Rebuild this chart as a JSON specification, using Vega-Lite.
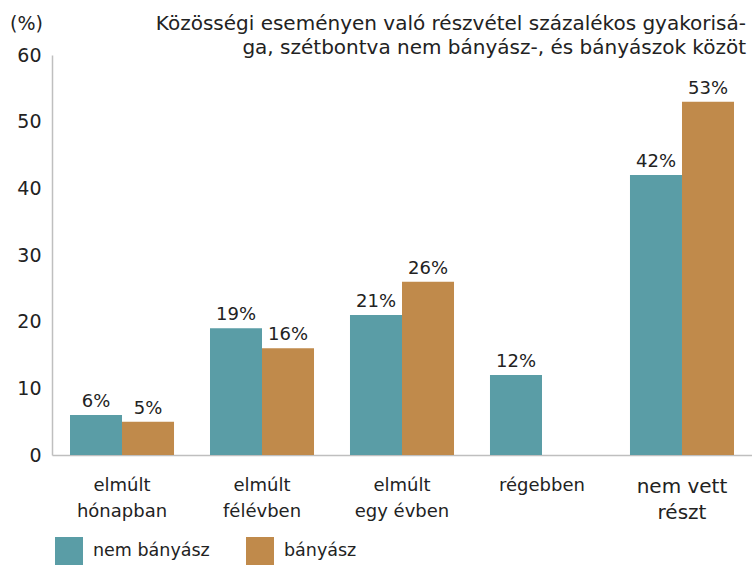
{
  "$schema": "https://vega.github.io/schema/vega-lite/v6.json",
  "width": 700,
  "height": 400,
  "autosize": "none",
  "padding": {"left": 52, "top": 55, "right": 0, "bottom": 110},
  "background": "white",
  "title": {
    "text": ["Közösségi eseményen való részvétel százalékos gyakorisá-", "ga, szétbontva nem bányász-, és bányászok közöt"],
    "anchor": "end",
    "frame": "group",
    "font": "DejaVu Sans",
    "fontSize": 20,
    "fontWeight": "normal",
    "color": "#222222",
    "lineHeight": 24,
    "offset": 4,
    "dx": -6,
    "dy": 48
  },
  "data": {
    "values": [
      {"cat": "elmúlt hónapban", "group": "nem bányász", "value": 6, "label": "6%"},
      {"cat": "elmúlt hónapban", "group": "bányász", "value": 5, "label": "5%"},
      {"cat": "elmúlt félévben", "group": "nem bányász", "value": 19, "label": "19%"},
      {"cat": "elmúlt félévben", "group": "bányász", "value": 16, "label": "16%"},
      {"cat": "elmúlt egy évben", "group": "nem bányász", "value": 21, "label": "21%"},
      {"cat": "elmúlt egy évben", "group": "bányász", "value": 26, "label": "26%"},
      {"cat": "régebben", "group": "nem bányász", "value": 12, "label": "12%"},
      {"cat": "nem vett részt", "group": "nem bányász", "value": 42, "label": "42%"},
      {"cat": "nem vett részt", "group": "bányász", "value": 53, "label": "53%"}
    ]
  },
  "encoding": {
    "x": {
      "field": "cat",
      "type": "nominal",
      "sort": null,
      "scale": {"paddingInner": 0.257, "paddingOuter": 0.1286},
      "axis": {
        "title": null,
        "labelAngle": 0,
        "ticks": false,
        "domainColor": "#BFBFBF",
        "domainWidth": 1.5,
        "labelFont": "DejaVu Sans",
        "labelFontSize": {"condition": {"test": "datum.value == 'nem vett részt'", "value": 20}, "value": 18},
        "labelColor": "#222222",
        "labelPadding": 21,
        "labelLineHeight": 26,
        "labelBaseline": "top",
        "labelExpr": "datum.value == 'elmúlt hónapban' ? ['elmúlt', 'hónapban'] : datum.value == 'elmúlt félévben' ? ['elmúlt', 'félévben'] : datum.value == 'elmúlt egy évben' ? ['elmúlt', 'egy évben'] : datum.value == 'nem vett részt' ? ['nem vett', 'részt'] : datum.value"
      }
    },
    "xOffset": {"field": "group", "type": "nominal", "sort": ["nem bányász", "bányász"], "scale": {"paddingInner": 0, "paddingOuter": 0}},
    "y": {
      "field": "value",
      "type": "quantitative",
      "scale": {"domain": [0, 60], "nice": false},
      "axis": {
        "values": [0, 10, 20, 30, 40, 50, 60],
        "grid": false,
        "ticks": false,
        "domainColor": "#BFBFBF",
        "domainWidth": 1.5,
        "labelFont": "DejaVu Sans",
        "labelFontSize": 19,
        "labelColor": "#222222",
        "labelPadding": 11,
        "title": "(%)",
        "titleAngle": 0,
        "titleX": -26,
        "titleY": -26,
        "titleAlign": "center",
        "titleBaseline": "alphabetic",
        "titleFont": "DejaVu Sans",
        "titleFontSize": 19,
        "titleFontWeight": "normal",
        "titleColor": "#222222"
      }
    },
    "color": {
      "field": "group",
      "type": "nominal",
      "sort": ["nem bányász", "bányász"],
      "scale": {"domain": ["nem bányász", "bányász"], "range": ["#5A9DA6", "#C08A4B"]},
      "legend": {
        "title": null,
        "orient": "none",
        "legendX": 3,
        "legendY": 482,
        "direction": "horizontal",
        "symbolType": "square",
        "symbolSize": 784,
        "symbolStrokeWidth": 0,
        "symbolOpacity": 1,
        "labelFont": "DejaVu Sans",
        "labelFontSize": 17.5,
        "labelColor": "#222222",
        "labelOffset": 10,
        "columnPadding": 36
      }
    }
  },
  "layer": [
    {"mark": {"type": "bar", "opacity": 1}},
    {
      "mark": {"type": "text", "dy": -13, "font": "DejaVu Sans", "fontSize": 18, "color": "#222222"},
      "encoding": {
        "text": {"field": "label", "type": "nominal"},
        "color": {"value": "#222222"}
      }
    }
  ],
  "config": {"view": {"stroke": null}}
}
